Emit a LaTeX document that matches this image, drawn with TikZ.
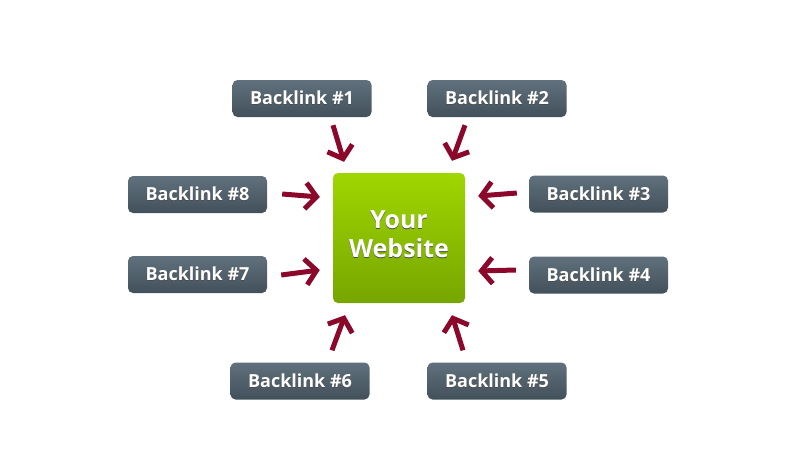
\documentclass[tikz,border=0pt]{standalone}
\usepackage{fontspec}
\setmainfont{Open Sans}
\usetikzlibrary{calc,arrows.meta}
\definecolor{slatetop}{RGB}{96,113,125}
\definecolor{slatebot}{RGB}{66,80,90}
\definecolor{greentop}{RGB}{160,214,0}
\definecolor{greenbot}{RGB}{118,166,0}
\definecolor{linkred}{RGB}{140,8,42}
\newcommand{\shtext}[1]{\rlap{\raisebox{-1pt}{\color{black!70}#1}}#1}
\tikzset{
  backlink/.style={rounded corners=5pt,top color=slatetop,bottom color=slatebot,
    minimum width=139pt,minimum height=37pt,inner sep=0pt,text=white,
    font=\bfseries\fontsize{18}{20}\selectfont},
  website/.style={rounded corners=5pt,top color=greentop,bottom color=greenbot,
    minimum width=132pt,minimum height=130pt,inner sep=0pt,text=white,align=center,
    text depth=8pt,font=\bfseries\fontsize{25}{29}\selectfont},
  link/.style={draw=linkred,line width=5pt,
    -{Straight Barb[length=11pt,width=26pt,line width=5pt]}}
}

\begin{document}
\begin{tikzpicture}[x=1pt,y=-1pt]
          \useasboundingbox (0,0) rectangle (800,464);
          %\draw[very thin,lightgray] (0,0) grid[step=50] (800,464);
          \node[website] (site) at (399,238) {\shtext{Your}\\\shtext{Website}};
          \node[backlink] (b1) at (302,98.5) {\shtext{Backlink \#1}};
          \node[backlink] (b2) at (497,98.5) {\shtext{Backlink \#2}};
          \node[backlink] (b3) at (598.5,194) {\shtext{Backlink \#3}};
          \node[backlink] (b4) at (598.5,275) {\shtext{Backlink \#4}};
          \node[backlink] (b5) at (497,381) {\shtext{Backlink \#5}};
          \node[backlink] (b6) at (300,381) {\shtext{Backlink \#6}};
          \node[backlink] (b7) at (197.5,274.5) {\shtext{Backlink \#7}};
          \node[backlink] (b8) at (197.5,194.5) {\shtext{Backlink \#8}};
          % arrows from each backlink into the site
          \draw[link] ($(b1.south)+(31,8)$) -- ($(site.north)+(-55,-11)$);
          \draw[link] ($(b2.south)+(-32,8)$) -- ($(site.north)+(53,-12)$);
          \draw[link] ($(b3.west)+(-12,-1)$) -- ($(site.east)+(13,-42)$);
          \draw[link] ($(b4.west)+(-13,-5)$) -- ($(site.east)+(13,33)$);
          \draw[link] ($(b5.north)+(-34,-12)$) -- ($(site.south)+(53,12)$);
          \draw[link] ($(b6.north)+(32,-12)$) -- ($(site.south)+(-54,12)$);
          \draw[link] ($(b7.east)+(14,0.5)$) -- ($(site.west)+(-13,32)$);
          \draw[link] ($(b8.east)+(15,-0.5)$) -- ($(site.west)+(-13,-41)$);
        \end{tikzpicture}
\end{document}
